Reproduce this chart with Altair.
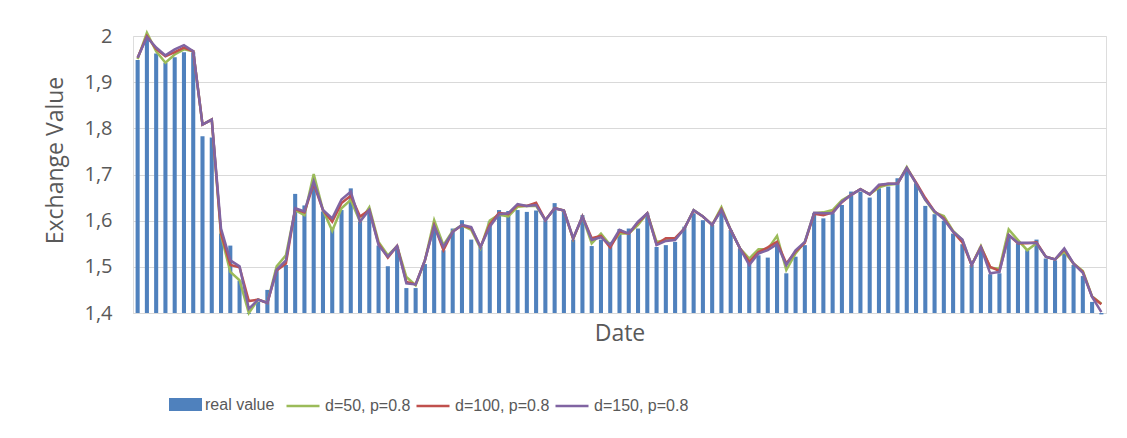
import altair as alt
import pandas as pd

real = [1.948, 2.000, 1.962, 1.942, 1.954, 1.965, 1.965, 1.783, 1.780, 1.572,
        1.546, 1.470, 1.398, 1.424, 1.450, 1.493, 1.504, 1.658, 1.633, 1.674,
        1.620, 1.585, 1.623, 1.670, 1.598, 1.620, 1.546, 1.501, 1.543, 1.454,
        1.454, 1.506, 1.591, 1.536, 1.583, 1.601, 1.559, 1.543, 1.598, 1.623,
        1.621, 1.623, 1.619, 1.622, 1.601, 1.638, 1.620, 1.559, 1.612, 1.545,
        1.559, 1.554, 1.582, 1.583, 1.583, 1.616, 1.543, 1.547, 1.554, 1.587,
        1.616, 1.601, 1.591, 1.620, 1.580, 1.540, 1.507, 1.525, 1.520, 1.547,
        1.486, 1.522, 1.547, 1.616, 1.605, 1.616, 1.634, 1.663, 1.663, 1.650,
        1.670, 1.674, 1.692, 1.710, 1.681, 1.632, 1.614, 1.600, 1.572, 1.549,
        1.504, 1.543, 1.484, 1.486, 1.569, 1.551, 1.536, 1.559, 1.518, 1.514,
        1.529, 1.504, 1.480, 1.424, 1.397]

d50 = [1.950, 2.007, 1.967, 1.942, 1.960, 1.971, 1.967, 1.808, 1.819, 1.569,
       1.489, 1.471, 1.400, 1.429, 1.422, 1.501, 1.525, 1.623, 1.612, 1.701,
       1.623, 1.578, 1.627, 1.645, 1.598, 1.629, 1.554, 1.525, 1.545, 1.478,
       1.460, 1.514, 1.601, 1.547, 1.578, 1.590, 1.580, 1.540, 1.600, 1.613,
       1.609, 1.630, 1.632, 1.632, 1.601, 1.627, 1.622, 1.560, 1.609, 1.551,
       1.572, 1.547, 1.572, 1.572, 1.591, 1.616, 1.554, 1.558, 1.560, 1.583,
       1.623, 1.609, 1.591, 1.629, 1.580, 1.540, 1.518, 1.538, 1.538, 1.567,
       1.493, 1.529, 1.554, 1.616, 1.618, 1.623, 1.644, 1.656, 1.668, 1.657,
       1.672, 1.678, 1.680, 1.716, 1.681, 1.645, 1.618, 1.610, 1.578, 1.558,
       1.504, 1.545, 1.498, 1.496, 1.581, 1.558, 1.536, 1.551, 1.522, 1.516,
       1.533, 1.507, 1.491, 1.436, 1.420]

d100 = [1.953, 2.000, 1.972, 1.956, 1.965, 1.975, 1.967, 1.808, 1.819, 1.572,
        1.504, 1.499, 1.426, 1.429, 1.422, 1.492, 1.507, 1.625, 1.618, 1.680,
        1.623, 1.598, 1.638, 1.654, 1.609, 1.623, 1.550, 1.520, 1.545, 1.467,
        1.462, 1.514, 1.590, 1.536, 1.576, 1.590, 1.584, 1.543, 1.592, 1.617,
        1.614, 1.634, 1.632, 1.639, 1.601, 1.627, 1.622, 1.561, 1.609, 1.562,
        1.567, 1.542, 1.577, 1.572, 1.596, 1.616, 1.549, 1.562, 1.562, 1.583,
        1.622, 1.609, 1.591, 1.625, 1.580, 1.540, 1.511, 1.532, 1.542, 1.554,
        1.507, 1.533, 1.552, 1.615, 1.612, 1.618, 1.640, 1.656, 1.668, 1.657,
        1.676, 1.680, 1.680, 1.714, 1.683, 1.649, 1.620, 1.605, 1.576, 1.553,
        1.504, 1.543, 1.500, 1.491, 1.569, 1.551, 1.551, 1.553, 1.522, 1.516,
        1.538, 1.507, 1.489, 1.435, 1.419]

d150 = [1.953, 1.998, 1.975, 1.958, 1.971, 1.980, 1.967, 1.808, 1.819, 1.583,
        1.514, 1.501, 1.409, 1.429, 1.422, 1.494, 1.514, 1.627, 1.620, 1.685,
        1.623, 1.605, 1.646, 1.663, 1.598, 1.623, 1.547, 1.522, 1.545, 1.464,
        1.462, 1.514, 1.588, 1.543, 1.576, 1.591, 1.586, 1.543, 1.587, 1.614,
        1.616, 1.636, 1.632, 1.634, 1.601, 1.627, 1.622, 1.562, 1.609, 1.558,
        1.564, 1.547, 1.580, 1.572, 1.598, 1.616, 1.547, 1.556, 1.558, 1.583,
        1.623, 1.609, 1.591, 1.623, 1.580, 1.540, 1.504, 1.529, 1.536, 1.549,
        1.504, 1.536, 1.554, 1.617, 1.616, 1.616, 1.641, 1.656, 1.668, 1.657,
        1.678, 1.680, 1.680, 1.714, 1.681, 1.645, 1.620, 1.603, 1.576, 1.559,
        1.504, 1.542, 1.486, 1.489, 1.569, 1.552, 1.552, 1.551, 1.522, 1.516,
        1.540, 1.507, 1.487, 1.435, 1.402]

series_names = ["d=50, p=0.8", "d=100, p=0.8", "d=150, p=0.8"]
series_colors = ["#9bbb59", "#c0504d", "#8064a2"]
y_ticks = [1.4, 1.5, 1.6, 1.7, 1.8, 1.9, 2.0]

df = pd.DataFrame({
    "idx": list(range(1, len(real) + 1)),
    "real": real,
    "d50": d50,
    "d100": d100,
    "d150": d150,
})

grey = "#595959"
legend_font = "Liberation Sans, sans-serif"

x_enc = alt.X(
    "idx:O",
    scale=alt.Scale(paddingInner=0.56, paddingOuter=0.28),
    axis=alt.Axis(labels=False, ticks=False, domain=True, domainColor="#d9d9d9",
                  title="Date", titleFont="Open Sans", titleFontSize=23,
                  titleFontWeight="normal", titleColor=grey, titlePadding=9),
)
y_scale = alt.Scale(domain=[1.4, 2.0], nice=False, zero=False)

base = alt.Chart(df)

bars = base.transform_calculate(kind="'real value'").mark_bar(clip=False).encode(
    x=x_enc,
    y=alt.Y("real:Q", scale=y_scale,
            axis=alt.Axis(values=y_ticks, grid=True, gridColor="#d9d9d9", gridWidth=1,
                          domain=False, ticks=False, labelPadding=21,
                          labelExpr="replace(format(datum.value, '~g'), '.', ',')",
                          labelFont="Open Sans", labelFontSize=20, labelColor=grey,
                          title="Exchange Value", titleFont="Open Sans", titleFontSize=23,
                          titleFontWeight="normal", titleColor=grey, titlePadding=16,
                          titleY=124)),
    y2=alt.datum(1.4),
    fill=alt.Fill("kind:N",
                  scale=alt.Scale(domain=["real value"], range=["#4f81bd"]),
                  legend=alt.Legend(orient="none", legendX=36, legendY=352, title=None,
                                    symbolType="M-1,-0.4H1V0.4H-1Z", symbolSize=1089,
                                    symbolStrokeWidth=0, labelFont=legend_font,
                                    labelFontSize=16, labelColor=grey, labelOffset=3)),
)

stroke_scale = alt.Scale(domain=series_names, range=series_colors)
stroke_legend = alt.Legend(orient="none", legendX=152, legendY=352, title=None,
                           direction="horizontal", symbolType="stroke", symbolSize=1089,
                           symbolStrokeWidth=2.5, labelFont=legend_font, labelFontSize=16,
                           labelColor=grey, labelOffset=4, columnPadding=0)

lines = []
for col, name in zip(["d50", "d100", "d150"], series_names):
    lines.append(
        base.transform_calculate(series=f"'{name}'").mark_line(strokeWidth=2.5, clip=False).encode(
            x="idx:O",
            y=alt.Y(f"{col}:Q", scale=y_scale),
            stroke=alt.Stroke("series:N", scale=stroke_scale, legend=stroke_legend),
        )
    )

chart = alt.layer(bars, *lines).properties(
    width=973, height=277,
    autosize="none",
    padding={"left": 125, "top": 28, "right": 13, "bottom": 117},
).configure_view(stroke=None).configure(background="white")

chart.save("out.html", embed_options={"renderer": "svg", "actions": False})
